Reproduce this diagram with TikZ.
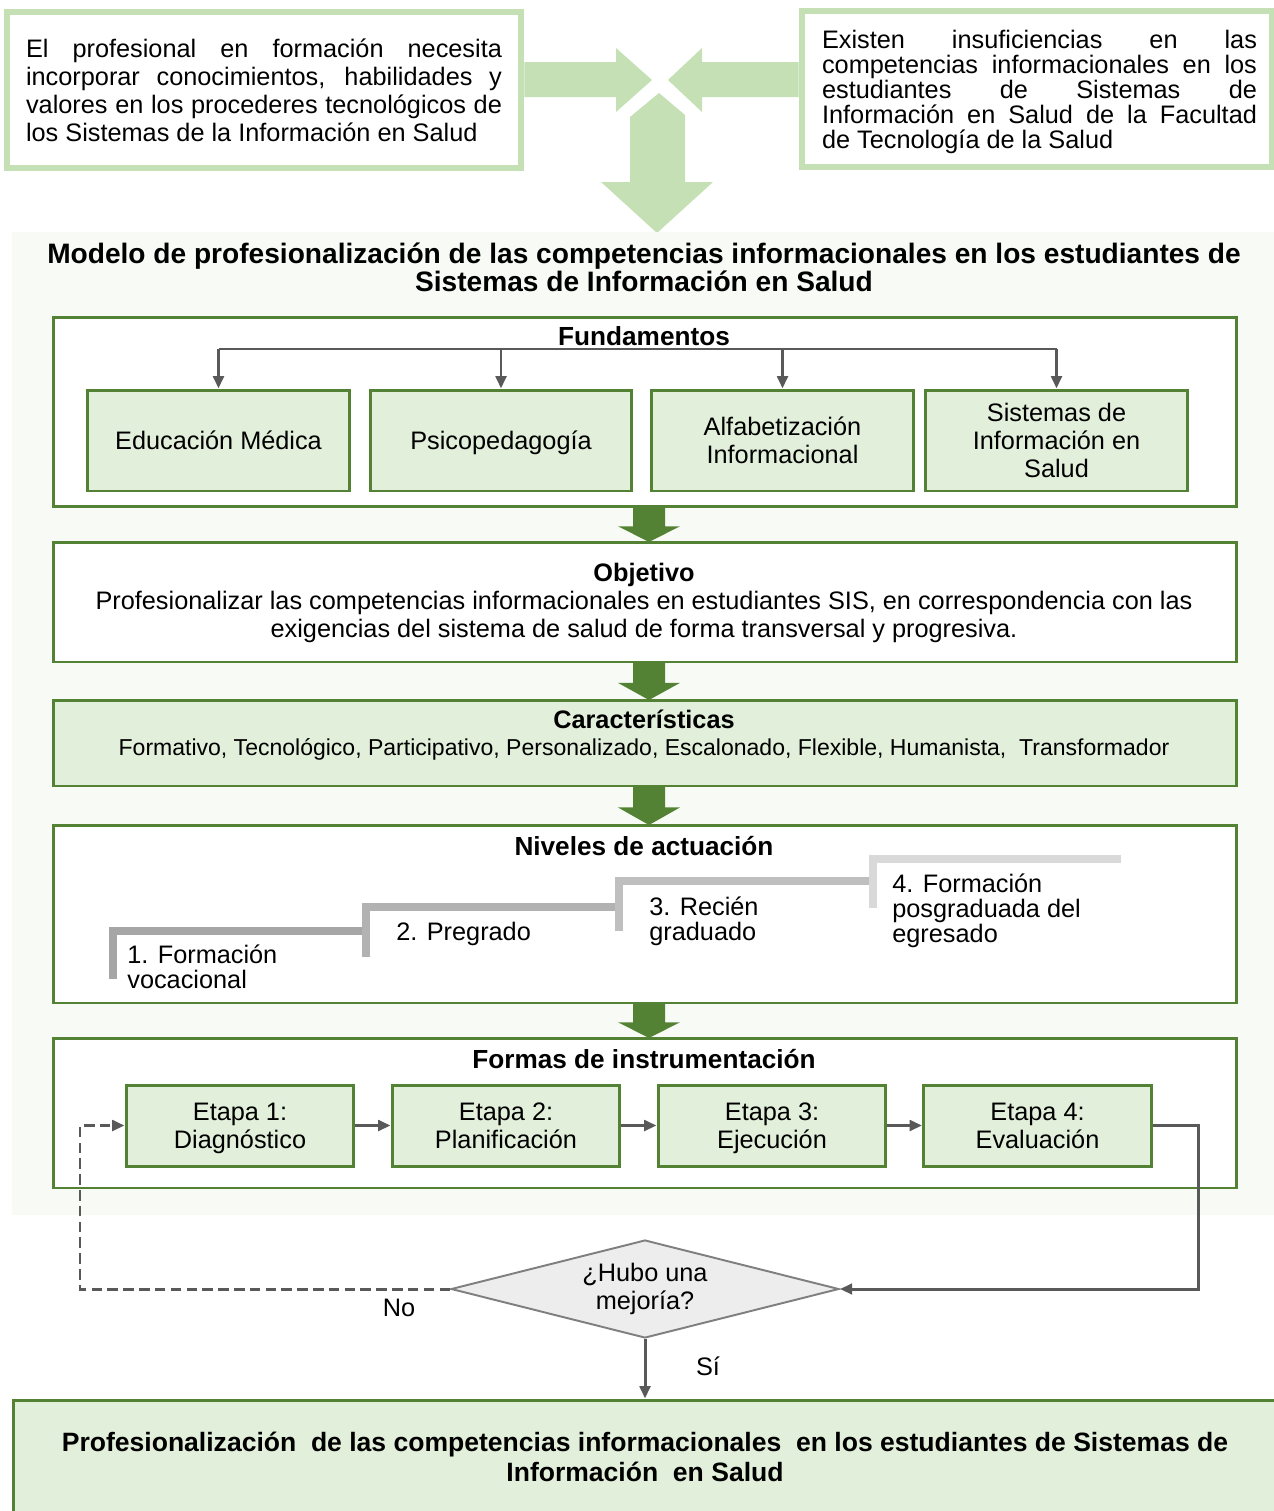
\documentclass[tikz,border=0pt]{standalone}
\usepackage{fontspec}
\setmainfont{Liberation Sans}
\usetikzlibrary{arrows.meta,shapes.geometric}

\definecolor{lgreen}{HTML}{C5E0B4}
\definecolor{dgreen}{HTML}{548235}
\definecolor{pgreen}{HTML}{E2EFDA}
\definecolor{panelbg}{HTML}{F8FBF5}
\definecolor{conn}{HTML}{595959}
\definecolor{decfill}{HTML}{EDEDED}
\definecolor{decline}{HTML}{7F7F7F}

\newcommand{\bodyfont}{\fontsize{14.4}{16}\selectfont}

\begin{document}
\begin{tikzpicture}[x=0.02cm, y=-0.02cm,
  every node/.style={font=\bodyfont},
  sourcebox/.style={draw=lgreen, line width=3.4pt, fill=white, align=justify, minimum height=3.12cm},
  frame/.style={draw=dgreen, line width=1.7pt, minimum width=23.68cm},
  item/.style={draw=dgreen, line width=1.7pt, fill=pgreen, align=center, minimum height=2.02cm, minimum width=5.24cm, text depth=0pt},
  etapa/.style={draw=dgreen, line width=1.7pt, fill=pgreen, align=center, minimum height=1.62cm, minimum width=4.56cm, text depth=0pt},
  link/.style={draw=conn, line width=1.7pt, -{Triangle[length=7pt,width=6pt]}},
  stair/.style={line width=4.5pt},
  lvl/.style={anchor=base west, align=left, inner sep=0pt, font=\fontsize{14.4}{14.2}\selectfont},
  head/.style={font=\fontsize{14.9}{16}\selectfont\bfseries}]

  \useasboundingbox (0,0) rectangle (1274,1511);

  % Top: the two starting statements
  \node[sourcebox, text width=9.52cm, inner xsep=0.39cm] (need) at (264,90)
    {El profesional en formación necesita\linebreak incorporar conocimientos, habilidades y\linebreak valores en los procederes tecnológicos de\linebreak los Sistemas de la Información en Salud};
  \node[sourcebox, minimum width=9.42cm, minimum height=3.14cm] (gap) at (1037,89) {};
  \node[text width=8.7cm, align=justify, font=\fontsize{14.4}{14.2}\selectfont] (gapt) at (1039.5,92)
    {Existen insuficiencias en las\linebreak competencias informacionales en los\linebreak estudiantes de Sistemas de\linebreak Información en Salud de la Facultad\linebreak de Tecnología de la Salud};

  \fill[lgreen] (need.east |- 0,62) -- (616,62) -- (616,48) -- (652,80) -- (616,112) -- (616,97) -- (need.east |- 0,97) -- cycle;
  \fill[lgreen] (gap.west |- 0,62) -- (702,62) -- (702,48) -- (668,80) -- (702,112) -- (702,97) -- (gap.west |- 0,97) -- cycle;
  \fill[lgreen] (659,93) -- (685,115) -- (685,182) -- (713,182) -- (657,233) -- (601,182) -- (630,182) -- (630,117) -- cycle;

  % Model panel
  \fill[panelbg] (12,232) rectangle (1274,1215);
  \node[font=\fontsize{16}{15.9}\selectfont\bfseries, align=center] (title) at (644,267)
    {Modelo de profesionalización de las competencias informacionales en los estudiantes de\\Sistemas de Información en Salud};

  % Fundamentos
  \node[frame, fill=white, minimum height=3.8cm] (fund) at (645,412) {};
  \node[head] (fundt) at (644,336) {Fundamentos};
  \node[item] (edu) at (218.5,440.5) {Educación Médica};
  \node[item] (psi) at (501,440.5) {Psicopedagogía};
  \node[item] (alf) at (782.5,440.5) {Alfabetización\\Informacional};
  \node[item] (sis) at (1056.5,440.5) {Sistemas de\\Información en\\Salud};
  \coordinate (bar) at (0,349);
  \draw[conn, line width=1.7pt] (edu.north |- bar) -- (sis.north |- bar);
  \foreach \n in {edu,psi,alf,sis}
    \draw[link] (\n.north |- bar) -- (\n.north);

  % Objetivo
  \node[frame, fill=white, minimum height=2.4cm] (obj) at (645,602) {};
  \node[align=center] (objt) at (644,603)
    {\textbf{Objetivo}\\Profesionalizar las competencias informacionales en estudiantes SIS, en correspondencia con las\\exigencias del sistema de salud de forma transversal y progresiva.};

  % Caracteristicas
  \node[frame, fill=pgreen, minimum height=1.72cm] (car) at (645,743) {};
  \node[align=center, font=\fontsize{13.1}{15.5}\selectfont] (cart) at (644,735)
    {\textbf{\fontsize{14.4}{15.5}\selectfont Características}\\Formativo, Tecnológico, Participativo, Personalizado, Escalonado, Flexible, Humanista, \ Transformador};

  % Niveles de actuacion
  \node[frame, fill=white, minimum height=3.56cm] (niv) at (645,914) {};
  \node[head] (nivt) at (644,846) {Niveles de actuación};
  \draw[stair, draw=black!35] (113,979) -- (113,931) -- (362,931);
  \draw[stair, draw=black!30] (366,957) -- (366,907) -- (617,907);
  \draw[stair, draw=black!25] (619,931) -- (619,881) -- (870,881);
  \draw[stair, draw=black!15] (873,908) -- (873,859) -- (1121,859);
  \node[lvl] (lv1) at (127,988) {1. Formación\\vocacional};
  \node[lvl] (lv2) at (396,940) {2. Pregrado};
  \node[lvl] (lv3) at (649,940) {3. Recién\\graduado};
  \node[lvl] (lv4) at (892,942) {4. Formación\\posgraduada del\\egresado};

  % Formas de instrumentacion
  \node[frame, fill=white, minimum height=3.0cm] (for) at (645,1113) {};
  \node[head] (fort) at (644,1059) {Formas de instrumentación};
  \node[etapa] (e1) at (240,1125.5) {Etapa 1:\\Diagnóstico};
  \node[etapa] (e2) at (506,1125.5) {Etapa 2:\\Planificación};
  \node[etapa] (e3) at (772,1125.5) {Etapa 3:\\Ejecución};
  \node[etapa] (e4) at (1037.5,1125.5) {Etapa 4:\\Evaluación};
  \draw[link] (e1) -- (e2);
  \draw[link] (e2) -- (e3);
  \draw[link] (e3) -- (e4);

  % big arrows between the blocks
  \foreach \ya/\yb in {507/542, 662/700, 786/825, 1003/1038}
    \fill[dgreen] (633,\ya) -- (665,\ya) -- (665,{0.45*\ya+0.55*\yb}) -- (680,{0.45*\ya+0.55*\yb})
      -- (649,\yb) -- (618,{0.45*\ya+0.55*\yb}) -- (633,{0.45*\ya+0.55*\yb}) -- cycle;

  % Decision and loop
  \node[diamond, draw=decline, line width=1.1pt, fill=decfill, aspect=3.96, minimum width=7.76cm, minimum height=1.96cm, inner sep=0pt, align=center] (dec) at (645,1289) {¿Hubo una\\mejoría?};
  \coordinate (loopR) at (1198,1289);
  \coordinate (loopL) at (80,1289);
  \draw[link] (e4.east) -| (loopR) -- (dec.east);
  \draw[link, dashed, dash pattern=on 6pt off 3pt] (dec.west) -- (loopL) |- (e1.west);
  \node (no) at (399,1308) {No};

  % Result
  \node[draw=dgreen, line width=1.7pt, fill=pgreen, minimum width=25.28cm, minimum height=2.28cm,
    font=\fontsize{15.1}{17}\selectfont\bfseries, align=center] (res) at (645,1457)
    {Profesionalización \ de las competencias informacionales \ en los estudiantes de Sistemas de\\Información \ en Salud};
  \draw[link] (dec.south) -- (dec.south |- res.north);
  \node (si) at (708,1366) {Sí};
\end{tikzpicture}
\end{document}
